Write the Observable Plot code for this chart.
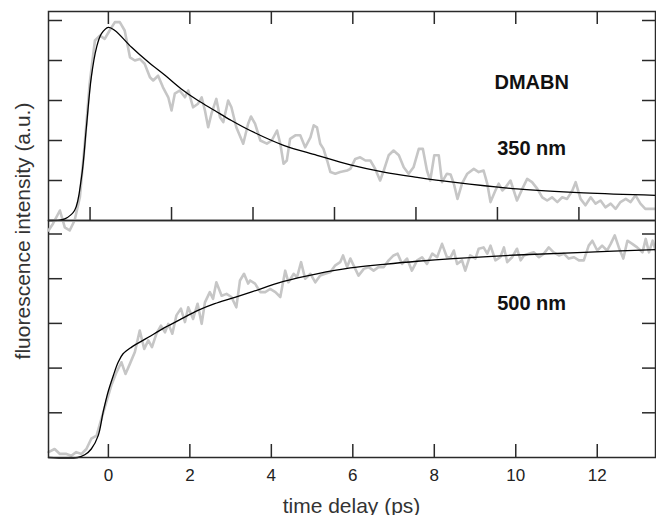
<!DOCTYPE html>
<html><head><meta charset="utf-8">
<script src="https://cdn.jsdelivr.net/npm/d3@7"></script>
<script src="https://cdn.jsdelivr.net/npm/@observablehq/plot@0.6"></script>
<style>
html,body{margin:0;padding:0;background:#fff;}
#chart{position:relative;width:656px;height:515px;overflow:hidden;font-family:"Liberation Sans",Arial,sans-serif;}
#chart svg{position:absolute;left:0;}
.ttl{position:absolute;font-size:21px;line-height:21px;color:#333;white-space:nowrap;}
</style></head><body>
<div id="chart"></div>
<script>
// ---- data ----
const xDomain = [-1.47, 13.43];
const xTickValues = [0, 2, 4, 6, 8, 10, 12];
const xTickLabels = ["0", "2", "4", "6", "8", "10", "12"];
const topLowerTickValues = [-0.45, 1.55, 3.55, 5.55, 7.55, 9.55, 11.55];
const yTickValues = [1, 2, 3, 4, 5];

const topSignalTime = [-1.47,-1.36,-1.19,-1.07,-0.95,-0.83,-0.70,-0.58,-0.46,-0.33,-0.21,-0.09,0.03,0.16,0.28,0.40,0.53,0.65,0.77,0.89,1.02,1.10,1.22,1.34,1.47,1.55,1.63,1.75,1.88,1.96,2.08,2.20,2.29,2.37,2.45,2.53,2.65,2.74,2.82,2.94,3.02,3.14,3.31,3.43,3.50,3.60,3.73,3.89,4.01,4.14,4.22,4.30,4.38,4.46,4.59,4.71,4.83,4.96,5.04,5.12,5.20,5.28,5.37,5.45,5.57,5.69,5.86,5.94,6.06,6.18,6.31,6.43,6.55,6.67,6.76,6.88,7.00,7.13,7.25,7.37,7.49,7.62,7.72,7.82,7.90,8.00,8.11,8.19,8.31,8.40,8.48,8.57,8.68,8.81,8.97,9.09,9.21,9.30,9.38,9.50,9.58,9.67,9.75,9.87,9.95,10.03,10.16,10.28,10.40,10.53,10.65,10.77,10.89,11.02,11.14,11.26,11.39,11.47,11.59,11.71,11.84,11.96,12.08,12.20,12.33,12.45,12.57,12.70,12.82,12.94,13.06,13.18,13.31,13.43];
const topSignal = [-0.25,-0.08,0.25,-0.17,-0.25,0.00,0.58,1.92,3.42,4.50,4.62,4.54,4.75,4.96,4.96,4.75,4.08,4.00,4.04,3.92,3.58,3.50,3.62,3.33,3.08,2.75,3.17,3.25,3.08,3.25,2.83,2.92,3.08,2.75,2.33,2.67,3.04,2.58,2.46,3.00,2.83,2.33,1.92,2.42,2.60,2.42,2.00,1.92,2.00,2.25,1.92,1.42,1.50,2.04,2.13,2.13,1.83,2.08,2.38,2.33,1.92,1.79,1.50,1.21,1.17,1.21,1.25,1.29,1.54,1.58,1.50,1.50,1.29,1.00,1.25,1.63,1.75,1.63,1.33,1.17,1.33,1.79,1.79,1.25,1.00,1.63,1.63,0.96,1.17,1.15,0.92,0.54,0.92,1.17,1.29,1.21,1.25,0.92,0.46,0.75,0.92,0.75,0.83,1.00,0.75,0.50,0.79,1.04,0.96,0.79,0.58,0.50,0.58,0.46,0.58,0.54,0.75,0.96,0.54,0.38,0.58,0.42,0.50,0.33,0.42,0.29,0.46,0.54,0.46,0.63,0.42,0.29,0.29,0.29];

const topFitTime = [-1.47,-1.2,-1.07,-0.83,-0.66,-0.54,-0.42,-0.29,-0.17,0,0.16,0.57,0.98,1.39,1.79,2.20,2.61,3.02,3.48,4.30,5.12,5.94,6.76,7.58,8.46,10.03,11.67,13.43];
const topFit = [0,0.01,0.04,0.25,1.08,2.33,3.58,4.33,4.67,4.83,4.75,4.33,3.96,3.63,3.29,3.0,2.75,2.5,2.25,1.88,1.63,1.39,1.21,1.08,0.96,0.79,0.69,0.63];

const bottomSignalTime = [-1.47,-1.32,-1.19,-1.03,-0.91,-0.79,-0.66,-0.54,-0.42,-0.29,-0.17,-0.05,0.07,0.20,0.32,0.42,0.53,0.65,0.77,0.88,0.98,1.07,1.18,1.29,1.39,1.47,1.57,1.67,1.78,1.88,1.96,2.08,2.19,2.29,2.37,2.49,2.57,2.65,2.78,2.90,3.02,3.14,3.23,3.33,3.43,3.48,3.60,3.73,3.85,3.97,4.10,4.22,4.34,4.42,4.55,4.63,4.73,4.83,4.96,5.08,5.20,5.32,5.45,5.57,5.69,5.76,5.86,5.94,6.04,6.14,6.27,6.39,6.51,6.63,6.76,6.88,7.00,7.10,7.21,7.33,7.45,7.58,7.70,7.82,7.95,8.07,8.19,8.31,8.40,8.48,8.56,8.68,8.76,8.88,9.01,9.09,9.21,9.30,9.38,9.50,9.62,9.71,9.79,9.91,10.03,10.12,10.20,10.32,10.44,10.57,10.69,10.81,10.93,11.06,11.18,11.30,11.43,11.55,11.67,11.79,11.88,12.00,12.12,12.24,12.33,12.43,12.53,12.64,12.74,12.86,12.98,13.11,13.19,13.27,13.36,13.43];
const bottomSignal = [0.12,0.19,0.08,0.08,0.04,0.12,0.08,0.19,0.42,0.49,0.87,1.24,1.61,1.91,2.13,1.87,2.10,2.36,2.84,2.43,2.62,2.47,2.77,2.95,2.80,2.99,2.77,3.18,3.33,3.03,3.36,3.10,3.44,2.99,3.47,3.70,3.55,3.92,3.62,3.66,3.59,3.36,3.96,4.11,3.89,3.96,3.89,3.70,3.70,3.77,3.70,3.59,4.18,3.92,4.11,4.03,4.37,4.00,4.11,3.92,4.07,4.11,4.15,4.30,4.37,4.52,4.26,4.45,4.26,4.07,4.22,4.26,4.18,4.26,4.26,4.41,4.52,4.56,4.33,4.45,4.18,4.41,4.48,4.33,4.56,4.48,4.78,4.48,4.48,4.63,4.33,4.41,4.18,4.52,4.45,4.67,4.70,4.56,4.74,4.41,4.48,4.70,4.37,4.48,4.67,4.41,4.52,4.56,4.59,4.48,4.56,4.70,4.59,4.52,4.56,4.45,4.48,4.41,4.41,4.74,4.85,4.63,4.74,4.63,4.78,4.97,4.70,4.45,4.85,4.78,4.70,4.59,4.89,4.59,4.85,4.63];

const bottomFitTime = [-1.47,-0.75,-0.58,-0.42,-0.25,-0.13,-0.01,0.12,0.24,0.36,0.57,0.98,1.39,1.79,2.20,2.61,3.02,3.50,4.30,5.12,5.94,6.76,7.58,8.46,10.03,11.67,13.43];
const bottomFit = [0,0,0.06,0.19,0.49,1.01,1.46,1.83,2.13,2.32,2.47,2.69,2.91,3.10,3.29,3.44,3.56,3.70,3.94,4.11,4.24,4.32,4.39,4.45,4.53,4.59,4.65];

const panelLabels = ["DMABN", "350 nm", "500 nm"];
const xTitle = "time delay (ps)";
const yTitle = "fluorescence intensity (a.u.)";

// ---- build ----
const rows = (ts, vs) => ts.map((t, i) => ({t, v: vs[i]}));
const frameColor = "#2a2a2a";
const grey = "#c6c6c6";
const W = 656, ML = 48, MR = 1;
const innerW = W - ML - MR;

function panel({height, marginTop, marginBottom, yMax, signal, fit, marks}) {
  const innerH = height - marginTop - marginBottom;
  return Plot.plot({
    width: W, height, marginLeft: ML, marginRight: MR, marginTop, marginBottom,
    style: {background: "transparent", overflow: "visible", fontFamily: "'Liberation Sans', Arial, sans-serif"},
    x: {domain: xDomain, axis: null},
    y: {domain: [0, yMax], axis: null},
    marks: [
      Plot.line(signal, {x: "t", y: "v", stroke: grey, strokeWidth: 2.6, strokeLinejoin: "round"}),
      Plot.line(fit, {x: "t", y: "v", stroke: "#000", strokeWidth: 1.3, curve: "catmull-rom"}),
      Plot.frame({stroke: frameColor, strokeWidth: 1.5}),
      Plot.tickY(yTickValues, {y: d => d, insetRight: innerW - 14, stroke: frameColor, strokeWidth: 1.5}),
      Plot.tickY(yTickValues, {y: d => d, insetLeft: innerW - 13, stroke: frameColor, strokeWidth: 1.5}),
      ...marks(innerH)
    ]
  });
}

const topSvg = panel({
  height: 221, marginTop: 11, marginBottom: 1, yMax: 5.225,
  signal: rows(topSignalTime, topSignal), fit: rows(topFitTime, topFit),
  marks: (h) => [
    Plot.tickX(xTickValues, {x: d => d, insetBottom: h - 13, stroke: frameColor, strokeWidth: 1.5}),
    Plot.tickX(topLowerTickValues, {x: d => d, insetTop: h - 13, stroke: frameColor, strokeWidth: 1.5}),
    Plot.text([panelLabels[0]], {x: 10.39, y: 3.45, text: d => d, fontSize: 20, fontWeight: "bold", fill: "#111"}),
    Plot.text([panelLabels[1]], {x: 10.39, y: 1.81, text: d => d, fontSize: 20, fontWeight: "bold", fill: "#111"})
  ]
});

const bottomSvg = panel({
  height: 296, marginTop: 1, marginBottom: 58, yMax: 5.302,
  signal: rows(bottomSignalTime, bottomSignal), fit: rows(bottomFitTime, bottomFit),
  marks: (h) => [
    Plot.tickX(xTickValues, {x: d => d, insetTop: h - 13, stroke: frameColor, strokeWidth: 1.5}),
    Plot.axisX(xTickValues, {tickSize: 0, tickPadding: 11, fontSize: 17, fill: "#222", label: null,
      tickFormat: (d) => xTickLabels[xTickValues.indexOf(d)]}),
    Plot.text([panelLabels[2]], {x: 10.39, y: 3.45, text: d => d, fontSize: 20, fontWeight: "bold", fill: "#111"})
  ]
});

const chart = document.getElementById("chart");
bottomSvg.style.top = "219px";
topSvg.style.top = "0px";
chart.appendChild(bottomSvg);
chart.appendChild(topSvg);

const xt = document.createElement("div");
xt.className = "ttl";
xt.textContent = xTitle;
xt.style.left = (ML + innerW / 2) + "px";
xt.style.top = "505px";
xt.style.transform = "translate(-50%,-50%)";
chart.appendChild(xt);

const yt = document.createElement("div");
yt.className = "ttl";
yt.textContent = yTitle;
yt.style.left = "22px";
yt.style.top = "231px";
yt.style.transform = "translate(-50%,-50%) rotate(-90deg)";
chart.appendChild(yt);
</script>
</body></html>
